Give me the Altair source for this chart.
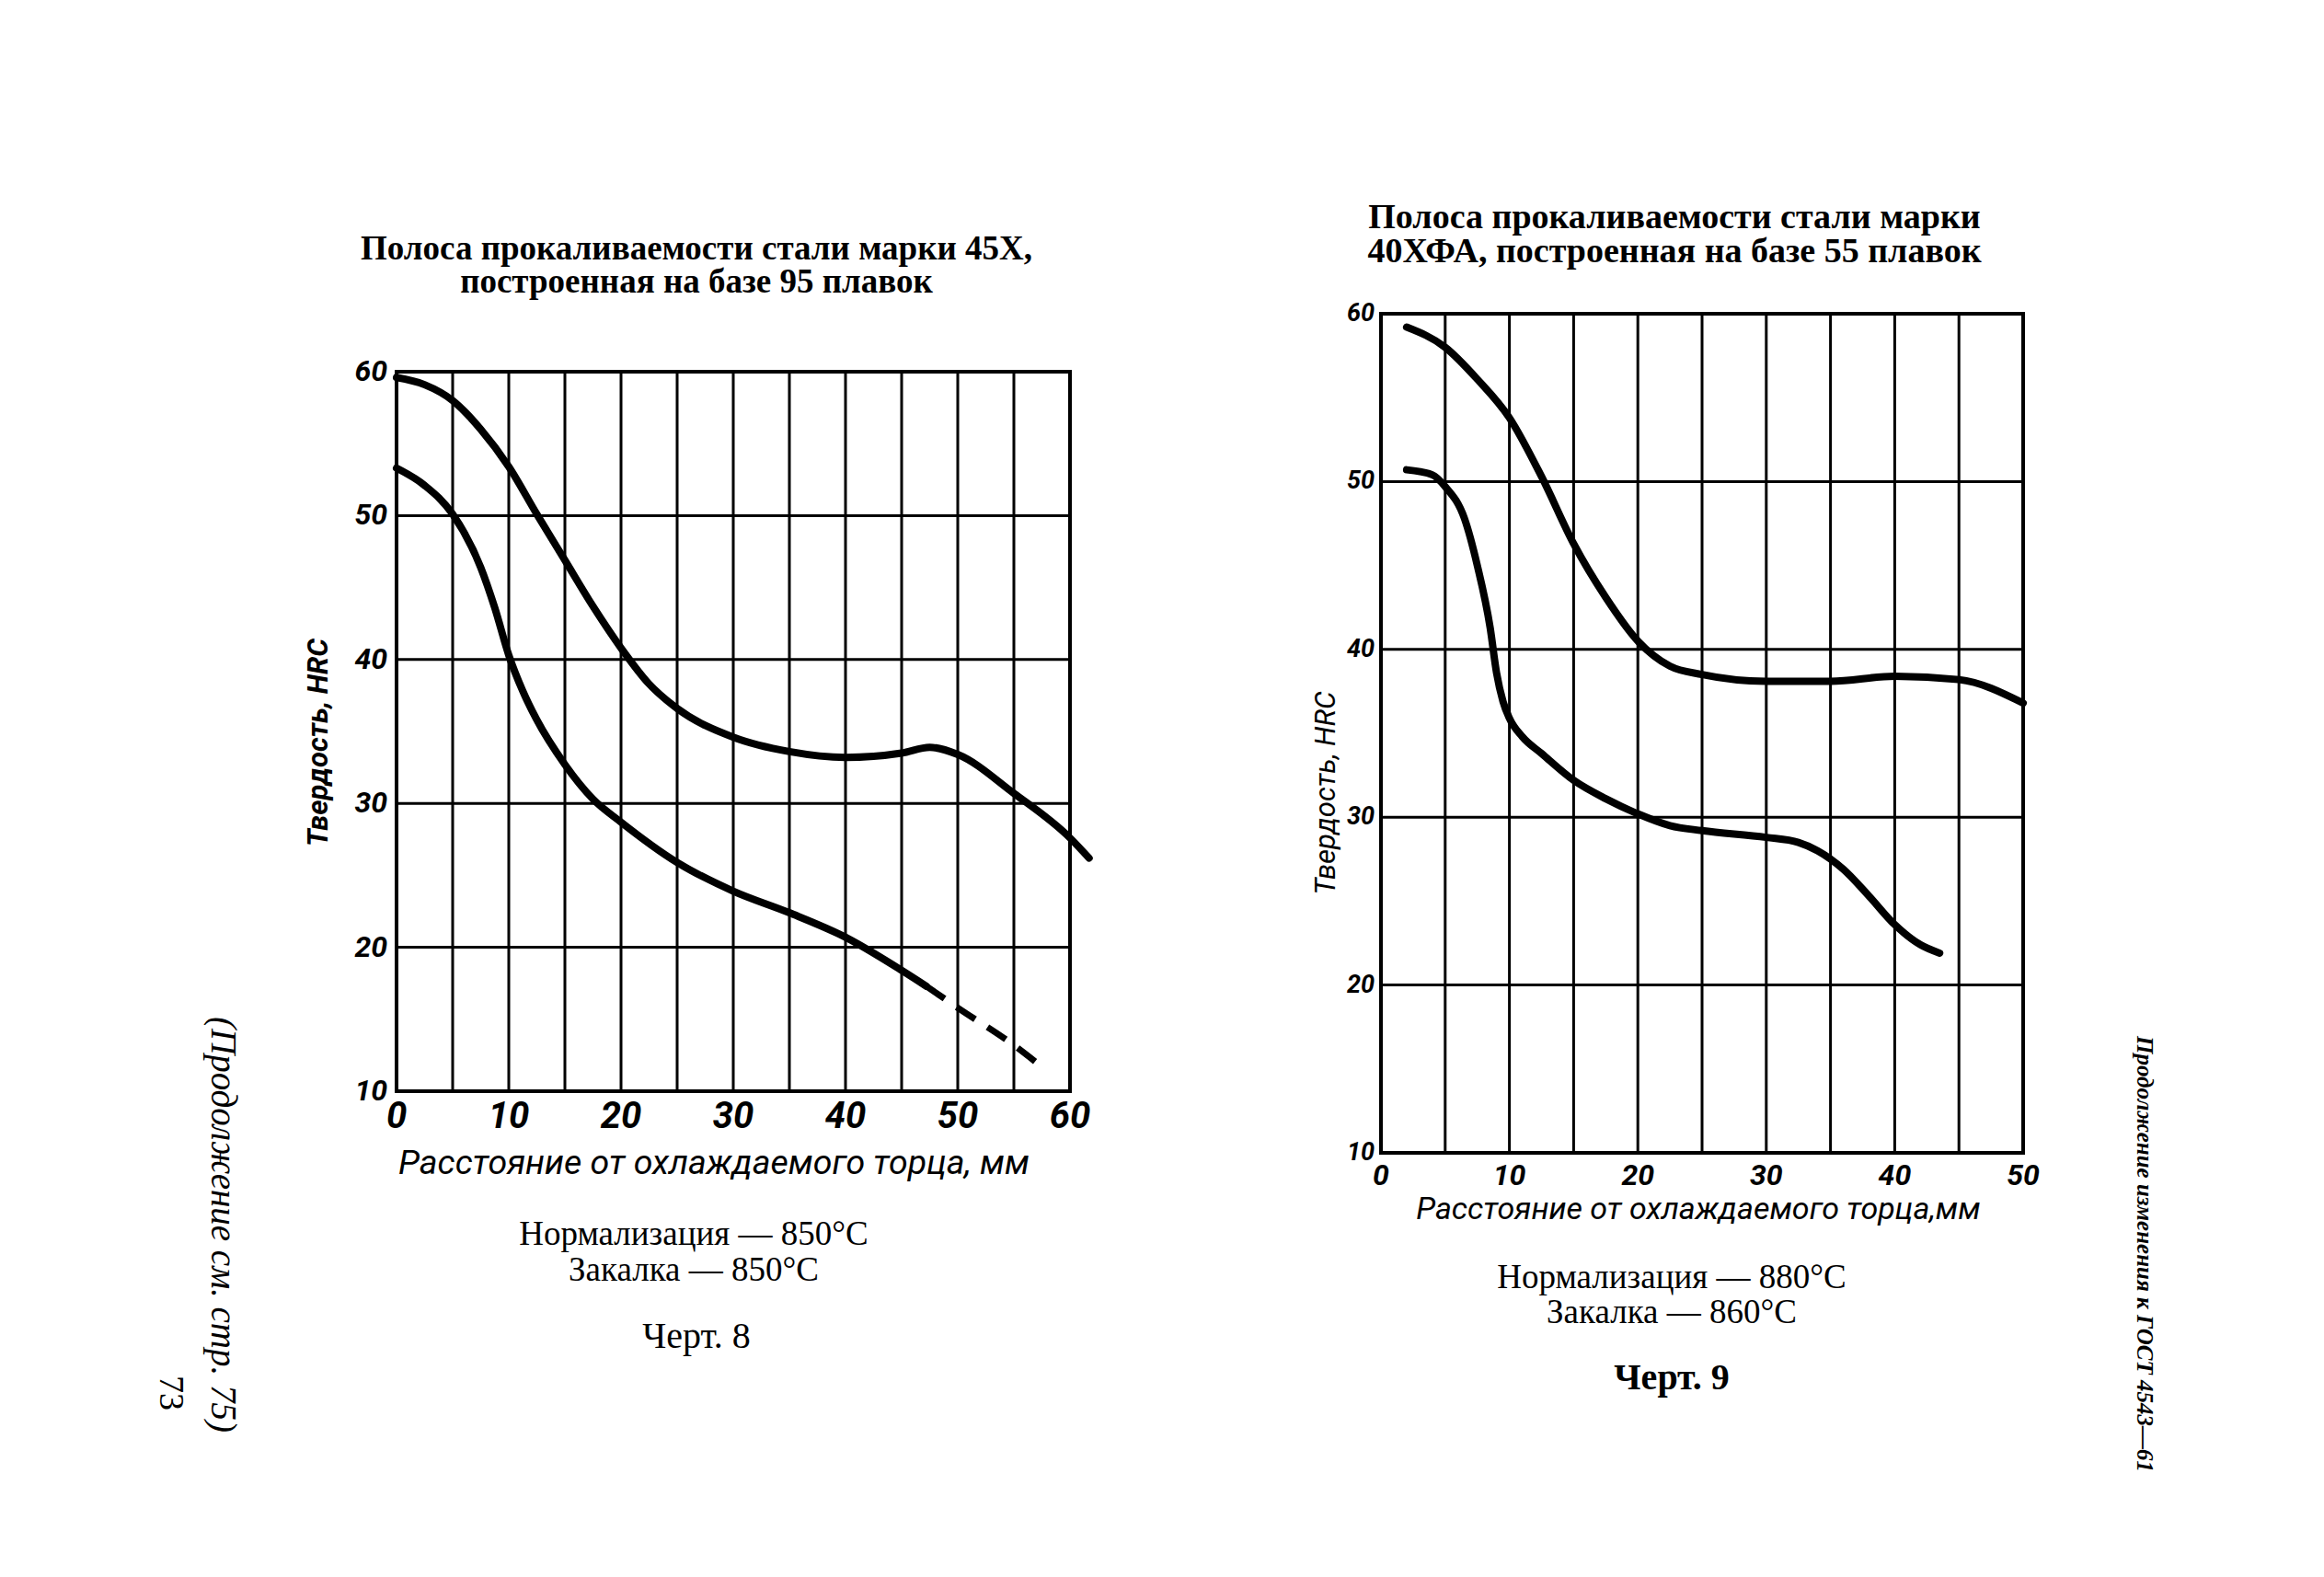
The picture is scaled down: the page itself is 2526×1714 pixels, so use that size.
import altair as alt
import pandas as pd

# ---------------- Data: Черт. 8 (сталь 45Х) ----------------
l_upper_x = [0, 2.5, 5, 7.5, 10, 12.5, 15, 17.5, 20, 22.5, 25, 30, 35, 40, 45, 47.5, 50, 55, 60, 61.7]
l_upper_y = [59.6, 59.1, 58.0, 56.0, 53.4, 50.1, 46.9, 43.7, 40.8, 38.3, 36.6, 34.6, 33.6, 33.2, 33.5, 33.9, 33.4, 30.7, 27.6, 26.2]
l_lower_x = [0, 2.5, 5, 7.5, 8.75, 10, 11.25, 12.5, 15, 17.5, 20, 25, 30, 35, 40, 45, 47.2]
l_lower_y = [53.3, 52.1, 50.1, 46.4, 43.6, 40.3, 37.8, 35.8, 32.7, 30.3, 28.7, 25.9, 23.9, 22.4, 20.7, 18.4, 17.3]
l_dash_x = [47.2, 50, 55, 57.8]
l_dash_y = [17.3, 15.8, 13.2, 11.5]
l_xgrid = [0, 5, 10, 15, 20, 25, 30, 35, 40, 45, 50, 55, 60]
l_xticks = [0, 10, 20, 30, 40, 50, 60]
l_yticks = [10, 20, 30, 40, 50, 60]

# ---------------- Data: Черт. 9 (сталь 40ХФА) ----------------
r_upper_x = [2, 5, 7.5, 10, 12.5, 15, 17.5, 20, 22.5, 25, 30, 35, 40, 45, 50]
r_upper_y = [59.2, 58.0, 56.1, 53.8, 50.3, 46.3, 43.1, 40.5, 39.0, 38.5, 38.1, 38.1, 38.4, 38.2, 36.8]
r_lower_x = [2, 4, 5, 6.5, 7.5, 8.5, 9, 9.5, 10, 11, 12.5, 15, 17.5, 20, 22.5, 25, 30, 32.5, 34, 36, 38, 40, 42, 43.5]
r_lower_y = [50.7, 50.4, 49.7, 47.8, 45.0, 41.3, 38.6, 36.9, 35.9, 34.8, 33.8, 32.2, 31.1, 30.2, 29.5, 29.2, 28.8, 28.5, 28.0, 26.9, 25.3, 23.6, 22.4, 21.9]
r_xgrid = [0, 5, 10, 15, 20, 25, 30, 35, 40, 45, 50]
r_xticks = [0, 10, 20, 30, 40, 50]
r_yticks = [10, 20, 30, 40, 50, 60]

SERIF = "Liberation Serif, Times New Roman, serif"
NARROW = "Roboto, Liberation Sans, sans-serif"


def panel(xdom, xpx, ypx, xgrid, xticks, yticks, curves, dashed,
          xlab_y, xlab_size, ylab_x, ylab_size):
    sx = alt.Scale(domain=xdom, range=xpx, nice=False, zero=False)
    sy = alt.Scale(domain=[10, 60], range=ypx, nice=False, zero=False)
    layers = []
    gx = pd.DataFrame({"v": xgrid})
    layers.append(alt.Chart(gx).mark_rule(color="black", strokeWidth=3).encode(
        x=alt.X("v:Q", scale=sx, axis=None),
        y=alt.value(ypx[1] - 1), y2=alt.value(ypx[0] + 1)))
    gy = pd.DataFrame({"v": yticks})
    layers.append(alt.Chart(gy).mark_rule(color="black", strokeWidth=3).encode(
        y=alt.Y("v:Q", scale=sy, axis=None),
        x=alt.value(xpx[0] - 1), x2=alt.value(xpx[1] + 1)))
    bx = pd.DataFrame({"v": [xdom[0], xdom[1]]})
    layers.append(alt.Chart(bx).mark_rule(color="black", strokeWidth=4).encode(
        x=alt.X("v:Q", scale=sx, axis=None),
        y=alt.value(ypx[1] - 2), y2=alt.value(ypx[0] + 2)))
    by = pd.DataFrame({"v": [10, 60]})
    layers.append(alt.Chart(by).mark_rule(color="black", strokeWidth=4).encode(
        y=alt.Y("v:Q", scale=sy, axis=None),
        x=alt.value(xpx[0] - 2), x2=alt.value(xpx[1] + 2)))
    for name, (xs, ys) in curves.items():
        df = pd.DataFrame({"x": xs, "y": ys})
        layers.append(alt.Chart(df).mark_line(
            color="black", strokeWidth=8, interpolate="monotone",
            strokeCap="round", strokeJoin="round").encode(
            x=alt.X("x:Q", scale=sx, axis=None),
            y=alt.Y("y:Q", scale=sy, axis=None)))
    if dashed is not None:
        df = pd.DataFrame({"x": dashed[0], "y": dashed[1]})
        layers.append(alt.Chart(df).mark_line(
            color="black", strokeWidth=7, strokeDash=[24, 16],
            interpolate="monotone").encode(
            x=alt.X("x:Q", scale=sx, axis=None),
            y=alt.Y("y:Q", scale=sy, axis=None)))
    tx = pd.DataFrame({"v": xticks})
    layers.append(alt.Chart(tx).mark_text(
        font=NARROW, fontStyle="italic", fontWeight="bold",
        fontSize=xlab_size, baseline="middle", align="center", color="black").encode(
        x=alt.X("v:Q", scale=sx, axis=None), y=alt.value(xlab_y),
        text=alt.Text("v:Q", format="d")))
    ty = pd.DataFrame({"v": yticks})
    layers.append(alt.Chart(ty).mark_text(
        font=NARROW, fontStyle="italic", fontWeight="bold",
        fontSize=ylab_size, baseline="middle", align="right", color="black").encode(
        y=alt.Y("v:Q", scale=sy, axis=None), x=alt.value(ylab_x),
        text=alt.Text("v:Q", format="d")))
    return layers


def label(text, x, y, size, font=SERIF, weight="normal", style="normal", angle=0, align="center"):
    df = pd.DataFrame({"t": [text]})
    kw = dict(font=font, fontSize=size, fontWeight=weight, fontStyle=style,
              align=align, baseline="middle", color="black")
    if angle:
        kw["angle"] = angle
    return alt.Chart(df).mark_text(**kw).encode(
        text="t:N", x=alt.value(x), y=alt.value(y))


layers = []
layers += panel([0, 60], [431, 1163], [1186, 404], l_xgrid, l_xticks, l_yticks,
                {"upper": (l_upper_x, l_upper_y), "lower": (l_lower_x, l_lower_y)},
                (l_dash_x, l_dash_y), 1214, 40, 421, 32)
layers += panel([0, 50], [1501, 2199], [1253, 341], r_xgrid, r_xticks, r_yticks,
                {"upper": (r_upper_x, r_upper_y), "lower": (r_lower_x, r_lower_y)},
                None, 1278, 32, 1494, 27)

# titles
layers.append(label("Полоса прокаливаемости стали марки 45Х,", 757, 271, 37, weight="bold"))
layers.append(label("построенная на базе 95 плавок", 757, 307, 37, weight="bold"))
layers.append(label("Полоса прокаливаемости стали марки", 1820, 237, 38, weight="bold"))
layers.append(label("40ХФА, построенная на базе 55 плавок", 1820, 274, 38, weight="bold"))

# axis titles
layers.append(label("Расстояние от охлаждаемого торца, мм", 776, 1265, 37.5, font=NARROW, style="italic"))
layers.append(label("Твердость, HRC", 347, 807, 31, font=NARROW, style="italic", weight="bold", angle=270))
layers.append(label("Расстояние от охлаждаемого торца,мм", 1846, 1315, 34, font=NARROW, style="italic"))
layers.append(label("Твердость, HRC", 1442, 862, 31, font=NARROW, style="italic", angle=270))

# captions
layers.append(label("Нормализация — 850°C", 754, 1342, 37))
layers.append(label("Закалка — 850°C", 754, 1381, 37))
layers.append(label("Черт. 8", 757, 1453, 40))
layers.append(label("Нормализация — 880°C", 1817, 1389, 37))
layers.append(label("Закалка — 860°C", 1817, 1427, 37))
layers.append(label("Черт. 9", 1817, 1498, 40, weight="bold"))

# side texts
layers.append(label("Продолжение изменения к ГОСТ 4543—61", 2331, 1363, 25, weight="bold", style="italic", angle=90))
layers.append(label("(Продолжение см. стр. 75)", 242, 1331, 39, style="italic", angle=90))
layers.append(label("73", 185, 1514, 38, angle=90))

chart = alt.layer(*layers).resolve_scale(x="independent", y="independent").properties(
    width=2526, height=1714, padding=0,
    autosize=alt.AutoSizeParams(type="none"),
    background="white",
).configure_view(stroke=None)

chart.save("out.html", embed_options={"renderer": "svg", "actions": False})
